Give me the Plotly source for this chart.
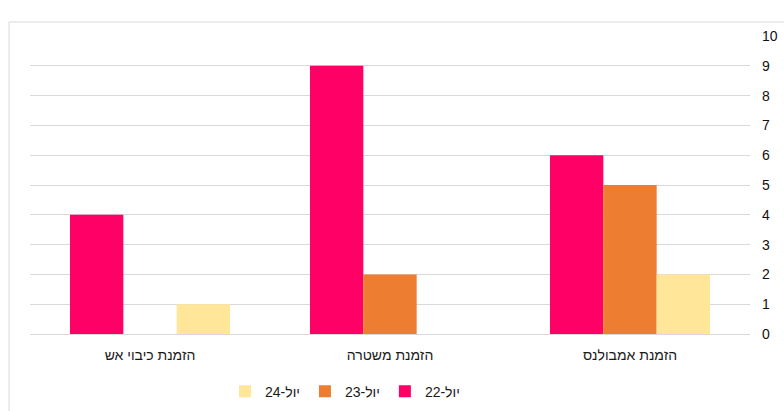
import plotly.graph_objects as go

# Service requests per category, by July of each year
categories = ["הזמנת כיבוי אש", "הזמנת משטרה", "הזמנת אמבולנס"]
series_names = ["יול-22", "יול-23", "יול-24"]
values_22 = [4, 9, 6]
values_23 = [0, 2, 5]
values_24 = [1, 0, 2]
y_ticks = list(range(0, 11))

colors = ["#FF0066", "#ED7D31", "#FFE699"]
series_values = [values_22, values_23, values_24]

fig = go.Figure()
for name, vals, col in zip(series_names, series_values, colors):
    fig.add_trace(go.Bar(
        x=categories, y=vals, name=name,
        marker=dict(color=col, line=dict(width=0)),
    ))

fig.update_layout(
    width=784, height=411,
    margin=dict(l=30, r=34, t=36, b=77, autoexpand=False),
    paper_bgcolor="white", plot_bgcolor="white",
    barmode="group", bargap=1/3, bargroupgap=0,
    font=dict(family="Liberation Sans, Arial, sans-serif", size=14, color="#1a1a1a"),
    showlegend=True,
    legend=dict(
        orientation="h", traceorder="reversed",
        x=0.4375, xanchor="center", y=-0.14, yanchor="top",
        font=dict(size=14, color="#1a1a1a"),
        itemwidth=30,
    ),
    xaxis=dict(
        showgrid=False, showline=False, ticks="",
        tickfont=dict(size=14, color="#1a1a1a"),
        ticklabelstandoff=11,
    ),
    yaxis=dict(
        side="right", range=[0, 10], tickvals=y_ticks,
        showgrid=True, gridcolor="#D9D9D9", gridwidth=1,
        zeroline=True, zerolinecolor="#D9D9D9", zerolinewidth=1,
        showline=False, ticks="",
        tickfont=dict(size=14, color="#111111"),
        ticklabelstandoff=11,
    ),
    shapes=[dict(
        type="rect", xref="paper", yref="paper",
        x0=(9 - 30) / 720, x1=(800 - 30) / 720,
        y0=-(430 - 334) / 298, y1=(334 - 22) / 298,
        line=dict(color="#D9D9D9", width=1), fillcolor="rgba(0,0,0,0)",
        layer="below",
    )],
)

fig.write_html("out.html")
